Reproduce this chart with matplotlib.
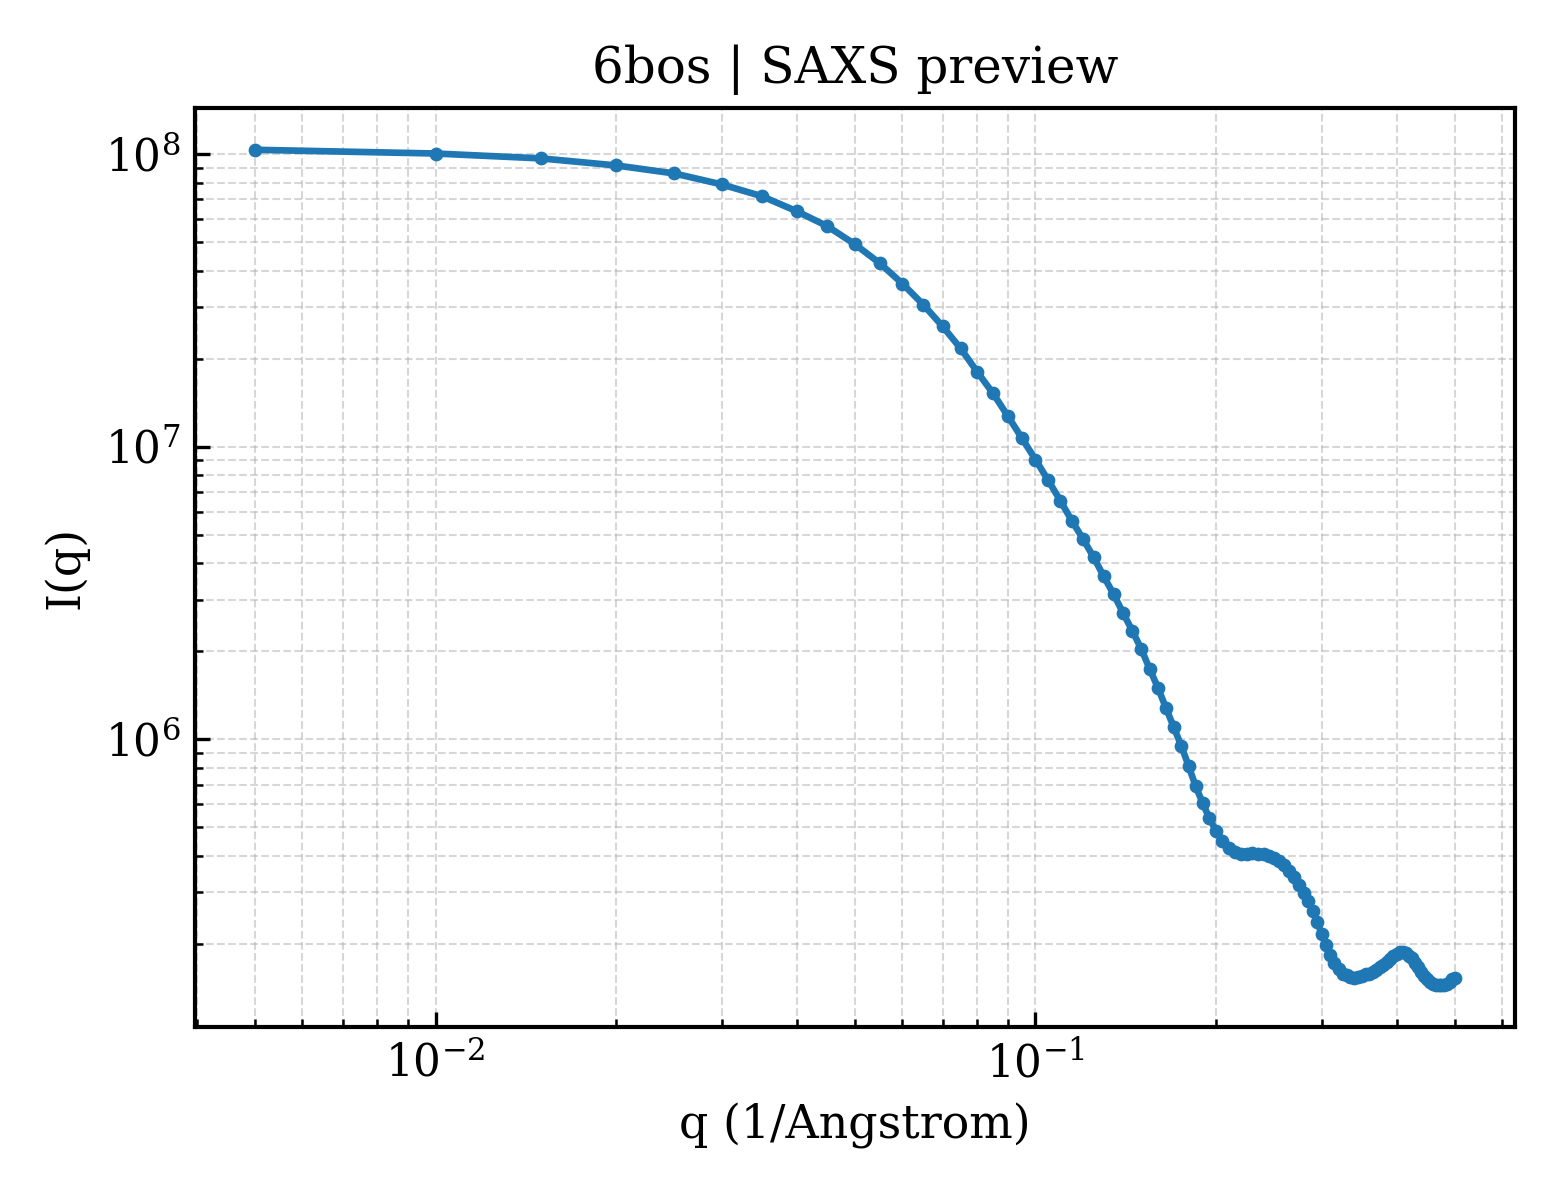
import numpy as np
import matplotlib
matplotlib.use("Agg")
import matplotlib.pyplot as plt

plt.rcParams['font.family'] = 'DejaVu Serif'

# q sampled every 0.005 1/A
q = [0.005, 0.010, 0.015, 0.020, 0.025, 0.030, 0.035, 0.040, 0.045, 0.050,
     0.055, 0.060, 0.065, 0.070, 0.075, 0.080, 0.085, 0.090, 0.095, 0.100,
     0.105, 0.110, 0.115, 0.120, 0.125, 0.130, 0.135, 0.140, 0.145, 0.150,
     0.155, 0.160, 0.165, 0.170, 0.175, 0.180, 0.185, 0.190, 0.195, 0.200,
     0.205, 0.210, 0.215, 0.220, 0.225, 0.230, 0.235, 0.240, 0.245, 0.250,
     0.255, 0.260, 0.265, 0.270, 0.275, 0.280, 0.285, 0.290, 0.295, 0.300,
     0.305, 0.310, 0.315, 0.320, 0.325, 0.330, 0.335, 0.340, 0.345, 0.350,
     0.355, 0.360, 0.365, 0.370, 0.375, 0.380, 0.385, 0.390, 0.395, 0.400,
     0.405, 0.410, 0.415, 0.420, 0.425, 0.430, 0.435, 0.440, 0.445, 0.450,
     0.455, 0.460, 0.465, 0.470, 0.475, 0.480, 0.485, 0.490, 0.495, 0.500]

intensity = [1.035e8, 1.005e8, 9.67e7, 9.15e7, 8.59e7, 7.88e7, 7.18e7, 6.38e7, 5.67e7, 4.92e7,
             4.24e7, 3.61e7, 3.06e7, 2.58e7, 2.17e7, 1.80e7, 1.52e7, 1.27e7, 1.067e7, 9.03e6,
             7.68e6, 6.54e6, 5.58e6, 4.84e6, 4.19e6, 3.60e6, 3.13e6, 2.70e6, 2.35e6, 2.04e6,
             1.74e6, 1.50e6, 1.28e6, 1.10e6, 9.5e5, 8.1e5, 6.9e5, 6.05e5, 5.36e5, 4.86e5,
             4.50e5, 4.25e5, 4.12e5, 4.06e5, 4.06e5, 4.07e5, 4.06e5, 4.04e5, 4.00e5, 3.93e5,
             3.83e5, 3.71e5, 3.55e5, 3.38e5, 3.18e5, 2.97e5, 2.79e5, 2.58e5, 2.37e5, 2.16e5,
             1.98e5, 1.83e5, 1.72e5, 1.64e5, 1.58e5, 1.56e5, 1.54e5, 1.53e5, 1.54e5, 1.55e5,
             1.57e5, 1.58e5, 1.60e5, 1.63e5, 1.66e5, 1.69e5, 1.73e5, 1.77e5, 1.81e5, 1.84e5,
             1.87e5, 1.88e5, 1.86e5, 1.82e5, 1.78e5, 1.72e5, 1.66e5, 1.60e5, 1.55e5, 1.51e5,
             1.48e5, 1.46e5, 1.44e5, 1.44e5, 1.44e5, 1.45e5, 1.46e5, 1.48e5, 1.51e5, 1.53e5]

fig, ax = plt.subplots(figsize=(5.2, 4), dpi=300)
fig.subplots_adjust(left=0.125, right=0.971, top=0.91, bottom=0.144)

ax.loglog(q, intensity, "-o", color="#1f77b4", lw=1.6, ms=2.3)

ax.set_title("6bos | SAXS preview", fontsize=12)
ax.set_xlabel("q (1/Angstrom)", fontsize=11)
ax.set_ylabel("I(q)", fontsize=11)
ax.tick_params(which="both", direction="in", labelsize=10.5)
ax.grid(True, which="both", ls="--", lw=0.5, alpha=0.5)
for s in ax.spines.values():
    s.set_linewidth(1.0)

fig.savefig("out.png", dpi=300)
